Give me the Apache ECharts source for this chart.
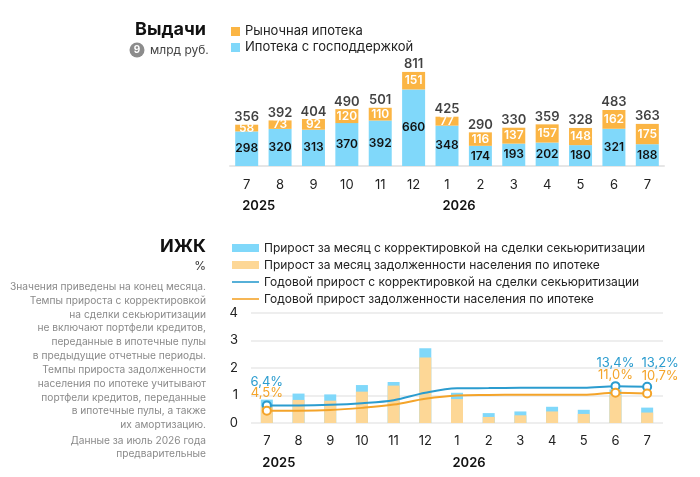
<!DOCTYPE html>
<html><head><meta charset="utf-8">
<script src="https://cdn.jsdelivr.net/npm/echarts@6/dist/echarts.min.js"></script>
<style>html,body{margin:0;padding:0;background:#fff}#c{width:700px;height:477px}</style>
</head><body><div id="c"></div>
<script>
// ---- data ----
const months = ['7','8','9','10','11','12','1','2','3','4','5','6','7'];
const years = {0:'2025', 6:'2026'};
// Выдачи, млрд руб.
const issueGov = [298,320,313,370,392,660,348,174,193,202,180,321,188];
const issueMarket = [58,73,92,120,110,151,77,116,137,157,148,162,175];
const issueTotal = [356,392,404,490,501,811,425,290,330,359,328,483,363];
// ИЖК, %
const monthAdj = [0.85,1.07,1.04,1.38,1.49,2.72,1.10,0.36,0.42,0.59,0.48,1.22,0.56];
const monthDebt = [0.60,0.84,0.81,1.14,1.36,2.38,0.87,0.22,0.28,0.42,0.33,1.02,0.38];
const yearAdj = [6.4,6.4,6.6,7.2,8.3,11.0,12.6,12.7,12.8,12.8,12.8,13.4,13.2];
const yearDebt = [4.5,4.5,4.7,5.5,6.7,8.8,10.0,10.2,10.3,10.3,10.3,11.0,10.7];
const labelIdx = [0,11,12];

const FONT = 'Inter';
const C_BLUE = '#80d8fa', C_ORANGE = '#fbb544', C_ORANGE_L = '#fdd796';
const C_LBLUE = '#2b9ccf', C_LORANGE = '#f4a42a';

function monthFmt(){
  return function(v, i){
    if (years[i]) return '{m|' + v + '}\n{y|' + years[i] + '}';
    return '{m|' + v + '}';
  };
}
function richAx(pad){
  return {
    m:{fontSize:13, lineHeight:20, color:'#222', fontFamily:FONT},
    y:{fontSize:13, lineHeight:pad.lh, color:'#111', fontWeight:600, fontFamily:FONT, padding:[0,0,0,pad.p]}
  };
}
function pct(v){ return v.toFixed(1).replace('.', ',') + '%'; }
function lineData(arr, color, dist){
  const last = arr.length - 1;
  return arr.map((v,i)=> labelIdx.includes(i) ? {
    value:v, symbol:'emptyCircle', symbolSize:8,
    label:{show:true, position:'top', distance:dist, offset:[i===last?13:0, 0],
           formatter:()=>pct(v), color:color, fontSize:13, fontFamily:FONT}
  } : {value:v, symbol:'none'});
}

const chart = echarts.init(document.getElementById('c'));
const grayText = ['Значения приведены на конец месяца.','Темпы прироста с корректировкой','на сделки секьюритизации','не включают портфели кредитов,','переданные в ипотечные пулы','в предыдущие отчетные периоды.'];
const grayText2 = ['Темпы прироста задолженности','населения по ипотеке учитывают','портфели кредитов, переданные','в ипотечные пулы, а также','их амортизацию.'];
const grayText3 = ['Данные за июль 2026 года','предварительные'];
const gEls = [
  {type:'text', x:206, y:30, style:{text:'Выдачи', font:'bold 18px '+FONT, fill:'#111', align:'right', verticalAlign:'middle'}},
  {type:'circle', shape:{cx:137, cy:50, r:7.5}, style:{fill:'#8c8c8c'}},
  {type:'text', x:137, y:50, style:{text:'9', font:'bold 10px '+FONT, fill:'#fff', align:'center', verticalAlign:'middle'}},
  {type:'text', x:150, y:50, style:{text:'млрд руб.', font:'12px '+FONT, fill:'#444', verticalAlign:'middle'}},
  {type:'text', x:206, y:247, style:{text:'ИЖК', font:'bold 18px '+FONT, fill:'#111', align:'right', verticalAlign:'middle'}},
  {type:'text', x:206, y:266, style:{text:'%', font:'12px '+FONT, fill:'#333', align:'right', verticalAlign:'middle'}},
  {type:'text', x:206, y:280, style:{text:grayText.join('\n'), font:'10.2px '+FONT, lineHeight:13.8, fill:'#8a8a8a', align:'right'}},
  {type:'text', x:206, y:363, style:{text:grayText2.join('\n'), font:'10.2px '+FONT, lineHeight:13.8, fill:'#8a8a8a', align:'right'}},
  {type:'text', x:206, y:434, style:{text:grayText3.join('\n'), font:'10.2px '+FONT, lineHeight:13.5, fill:'#8a8a8a', align:'right'}}
];

chart.setOption({
  animation:false,
  textStyle:{fontFamily:FONT},
  graphic:gEls,
  legend:[
    {left:231, top:24, padding:0, orient:'vertical', itemWidth:9, itemHeight:9, itemGap:1, icon:'rect',
     textStyle:{fontSize:13, color:'#222', fontFamily:FONT, lineHeight:15},
     data:['Рыночная ипотека','Ипотека с господдержкой']},
    {left:232, top:241, padding:0, orient:'vertical', itemWidth:27, itemHeight:8, itemGap:3,
     textStyle:{fontSize:12, color:'#222', fontFamily:FONT, lineHeight:14},
     data:[
       {name:'Прирост за месяц с корректировкой на сделки секьюритизации', icon:'rect'},
       {name:'Прирост за месяц задолженности населения по ипотеке', icon:'rect'},
       {name:'Годовой прирост с корректировкой на сделки секьюритизации', icon:'path://M0,0L27,0L27,1.6L0,1.6Z'},
       {name:'Годовой прирост задолженности населения по ипотеке', icon:'path://M0,0L27,0L27,1.6L0,1.6Z'}
     ]}
  ],
  grid:[
    {left:230, width:434, top:50, height:116},
    {left:251, width:412, top:313, height:110}
  ],
  xAxis:[
    {type:'category', gridIndex:0, data:months, axisTick:{show:false},
     axisLine:{lineStyle:{color:'#e6e6e6', width:2}},
     axisLabel:{interval:0, margin:9, formatter:monthFmt(), rich:richAx({p:24, lh:22})}},
    {type:'category', gridIndex:1, data:months, axisTick:{show:false}, axisLine:{show:false},
     axisLabel:{interval:0, margin:8, formatter:monthFmt(), rich:richAx({p:24, lh:24})}}
  ],
  yAxis:[
    {type:'value', gridIndex:0, min:0, max:1000, show:false},
    {type:'value', gridIndex:1, min:0, max:4, interval:1,
     axisLabel:{fontSize:13, color:'#222', margin:13, fontFamily:FONT},
     splitLine:{lineStyle:{color:'#e8e8e8', width:1.5}}, axisLine:{show:false}, axisTick:{show:false}},
    {type:'value', gridIndex:1, min:0, max:40, show:false}
  ],
  series:[
    {name:'Ипотека с господдержкой', type:'bar', xAxisIndex:0, yAxisIndex:0, stack:'iss', data:issueGov, barWidth:23,
     itemStyle:{color:C_BLUE},
     label:{show:true, position:'inside', color:'#111', fontSize:12, fontWeight:600, fontFamily:FONT}},
    {name:'Рыночная ипотека', type:'bar', xAxisIndex:0, yAxisIndex:0, stack:'iss', data:issueMarket, barWidth:23,
     itemStyle:{color:C_ORANGE},
     label:{show:true, position:'inside', color:'#fff', fontSize:12, fontWeight:600, fontFamily:FONT}},
    {name:'total', type:'scatter', xAxisIndex:0, yAxisIndex:0, data:issueTotal, symbolSize:0, silent:true,
     label:{show:true, position:'top', distance:1, color:'#111', fontSize:13, fontWeight:600, fontFamily:FONT}},
    {name:'Прирост за месяц с корректировкой на сделки секьюритизации', type:'bar', xAxisIndex:1, yAxisIndex:1,
     data:monthAdj, barWidth:12, barGap:'-100%', itemStyle:{color:C_BLUE}},
    {name:'Прирост за месяц задолженности населения по ипотеке', type:'bar', xAxisIndex:1, yAxisIndex:1,
     data:monthDebt, barWidth:12, barGap:'-100%', itemStyle:{color:C_ORANGE_L}},
    {name:'Годовой прирост с корректировкой на сделки секьюритизации', type:'line', xAxisIndex:1, yAxisIndex:2,
     data:lineData(yearAdj, C_LBLUE, 12), smooth:0.35, symbol:'none', lineStyle:{color:C_LBLUE, width:2},
     itemStyle:{color:C_LBLUE, borderWidth:2}, z:5},
    {name:'Годовой прирост задолженности населения по ипотеке', type:'line', xAxisIndex:1, yAxisIndex:2,
     data:lineData(yearDebt, C_LORANGE, 6), smooth:0.35, symbol:'none', lineStyle:{color:C_LORANGE, width:2},
     itemStyle:{color:C_LORANGE, borderWidth:2}, z:5}
  ]
});
</script></body></html>
